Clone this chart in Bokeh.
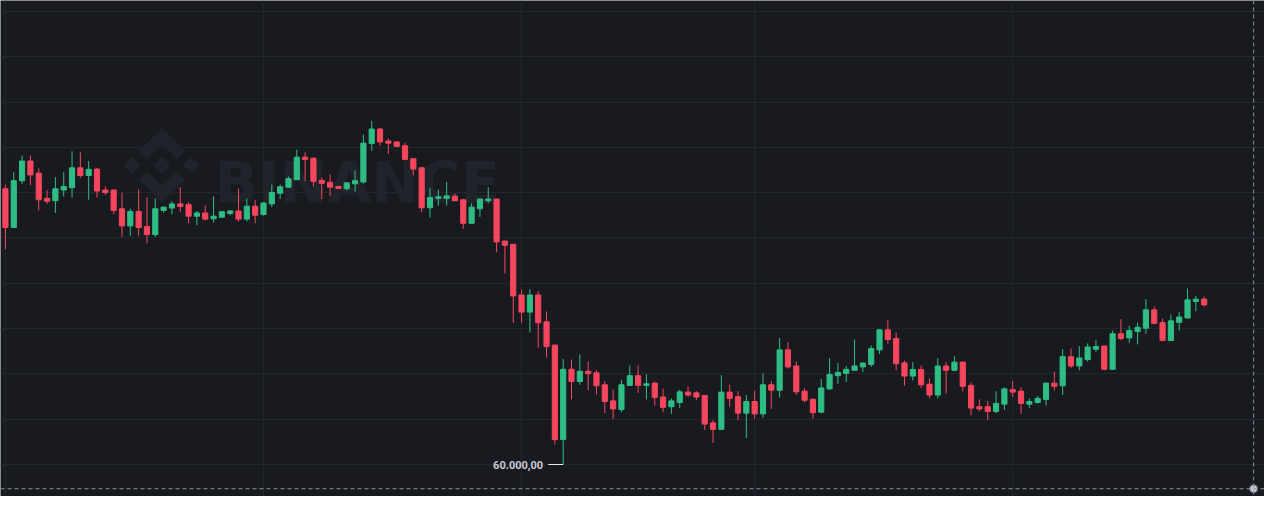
import numpy as np
import pandas as pd
from bokeh.plotting import figure
from bokeh.models import Range1d, FixedTicker, Span, Label, ColumnDataSource
from bokeh.core.properties import value
from bokeh.embed import file_html
from bokeh.resources import INLINE

# ---------------- data (BTC/USDT daily candles) ----------------
start_date = "2025-12-01"
open_ = [90430, 86160, 91320, 93490, 92150, 89370, 89110, 90290, 90540, 92740,
         91890, 92600, 90290, 90290, 88220, 86330, 87930, 86270, 85370, 88040,
         88300, 88760, 88680, 87400, 87760, 87120, 87290, 87690, 87980, 87080,
         88510, 87580, 88760, 89930, 90610, 91430, 93920, 93810, 91350, 91140,
         90680, 90430, 90970, 91180, 95420, 97020, 95700, 95600, 95170, 93750,
         92740, 88330, 89370, 89370, 89610, 89220, 86620, 88220, 89110, 89290,
         84660, 84300, 78710, 76820, 78710, 75750, 73180, 62750, 70510, 69160,
         70290, 70120, 68800, 67020, 66060, 68730, 69800, 68730, 68980, 67450,
         66380, 66840, 67990, 67910, 67620, 64600, 63880, 67990, 67480, 65670,
         66950, 65590, 68800, 68200, 72650, 70870, 68090, 67190, 65770, 68340,
         69800, 70050, 70400, 70770, 71040, 72650, 74860, 73900, 71220, 69760,
         70480, 68870, 67670, 70870, 70400, 71300, 68730, 66380, 66380, 65850,
         66660, 68260, 68090, 66660, 66840, 67190, 68980, 68690, 71900, 70870,
         71580, 72720, 73070, 70510, 74430, 73970, 74680, 75040, 77070, 75680,
         73680, 75680, 76170, 77990, 78250]
high = [90890, 92250, 94100, 94100, 92680, 90250, 91720, 92250, 94560, 94450,
        93490, 92740, 90710, 90360, 90010, 88220, 90360, 89470, 89370, 88470,
        89050, 90610, 88940, 87980, 88570, 89580, 87960, 88040, 90430, 89370,
        89180, 88970, 90890, 90890, 91780, 94740, 94450, 93850, 91670, 92040,
        90730, 91180, 92470, 96420, 97920, 97130, 95950, 95650, 95520, 93780,
        92850, 90540, 90330, 91180, 89900, 89260, 88830, 89340, 90610, 89340,
        84690, 84320, 79320, 79320, 79140, 76890, 73200, 71650, 71580, 72150,
        71360, 70400, 69230, 68260, 69330, 70940, 70940, 69970, 69160, 68370,
        67300, 68260, 68630, 68090, 67640, 64890, 69870, 68800, 68090, 67670,
        68160, 70050, 69230, 73970, 73500, 71360, 68450, 67270, 69440, 71730,
        71220, 70870, 73790, 71300, 73150, 74930, 75930, 74570, 71470, 71300,
        70940, 69510, 71730, 71300, 71940, 71330, 69090, 67190, 67020, 68090,
        68520, 69230, 68520, 67300, 67560, 69030, 70230, 72720, 72800, 73070,
        73360, 73720, 73150, 74780, 76040, 75320, 75640, 78250, 77430, 76110,
        76540, 76820, 79420, 78600, 78530]
low = [83760, 86100, 90970, 90820, 88040, 88760, 87760, 89580, 89470, 91610,
       89220, 89470, 89750, 87610, 85120, 85260, 85260, 84410, 85120, 87790,
       87610, 87870, 86620, 86400, 86910, 86690, 87230, 87510, 86800, 86800,
       86620, 87470, 88400, 89290, 90540, 91430, 91250, 90710, 89290, 89640,
       90410, 90250, 90110, 91000, 94640, 95170, 94280, 95060, 93570, 91890,
       87870, 87260, 88570, 88570, 89080, 86010, 86540, 87330, 88830, 83410,
       81090, 75640, 75640, 74570, 72900, 71830, 62210, 60000, 67190, 68800,
       68200, 67730, 65670, 64990, 65770, 68660, 67910, 67190, 66490, 65770,
       65590, 66230, 67450, 67090, 63820, 62380, 63850, 66380, 64890, 62920,
       65060, 65160, 66130, 67380, 70580, 67670, 66840, 65060, 65670, 68260,
       68910, 69090, 70340, 70230, 70770, 72190, 73330, 70400, 68690, 69270,
       68450, 67300, 67300, 67800, 70290, 68090, 65420, 65880, 64890, 65670,
       66010, 67450, 65590, 66230, 66740, 66490, 68160, 67670, 70660, 70400,
       71360, 72430, 70400, 70480, 73720, 73440, 73260, 74430, 75470, 73610,
       73610, 74780, 76110, 76920, 77430]
close = [86160, 91320, 93490, 91960, 89220, 89050, 90430, 90680, 92740, 91890,
         92570, 90180, 90010, 88040, 86330, 87930, 86160, 85370, 88220, 88400,
         88760, 88470, 87400, 87760, 87080, 87400, 87900, 87980, 87080, 88510,
         87510, 88860, 90010, 90650, 91540, 93920, 93670, 91250, 91030, 90610,
         90470, 91080, 91320, 95460, 97020, 95600, 95460, 95100, 93670, 92600,
         88330, 89470, 89540, 89640, 89110, 86620, 88400, 89290, 89290, 84560,
         84190, 78600, 76820, 78710, 75640, 73010, 62750, 70510, 69160, 70290,
         70020, 68690, 66950, 66130, 68800, 69800, 68730, 68910, 67380, 66310,
         67020, 68020, 67670, 67450, 64460, 63880, 67990, 67300, 65670, 66950,
         65590, 68800, 68200, 72650, 70770, 68020, 67090, 65720, 68450, 69940,
         70160, 70510, 70870, 71190, 72800, 74860, 73790, 71120, 69760, 70480,
         68800, 67670, 70870, 70400, 71300, 68630, 66230, 66130, 65850, 66740,
         68340, 67990, 66740, 66950, 67300, 68980, 68630, 71900, 70870, 71760,
         72970, 73010, 70510, 74430, 73900, 74780, 75150, 77070, 75580, 73680,
         75850, 76280, 78170, 78250, 77610]
month_starts = ["2025-12-01", "2026-01-01", "2026-02-01", "2026-03-01", "2026-04-01"]
price_grid = [60000, 65000, 70000, 75000, 80000, 85000, 90000, 95000, 100000, 105000, 110000]
watermark_text = "BINANCE"

# ---------------- style ----------------
UP = "#2ebd85"
DOWN = "#f6465d"
BG = "#181a20"
GRID = "#22272d"
WM = "#202329"
CROSS = "#8c9199"

DAY = 86400000.0
t0 = pd.Timestamp(start_date).value / 1e6
dates = pd.date_range(start_date, periods=len(close), freq="D")

o = np.array(open_, float)
c = np.array(close, float)
src = ColumnDataSource(dict(
    x=dates, open=o, close=c, high=np.array(high, float), low=np.array(low, float),
    top=np.maximum(o, c), bottom=np.minimum(o, c),
    color=[UP if cc >= oo else DOWN for oo, cc in zip(o, c)],
))

# view window (matches the reference framing)
x_lo, x_hi = t0 - 0.593 * DAY, t0 + 151.246 * DAY
y_lo, y_hi = 56470, 111205

p = figure(width=1264, height=496, x_axis_type="datetime",
           x_range=Range1d(x_lo, x_hi), y_range=Range1d(y_lo, y_hi),
           x_axis_location=None, y_axis_location=None,
           output_backend="svg", toolbar_location=None, min_border=0,
           background_fill_color=BG, border_fill_color=BG, outline_line_color=None)

p.xgrid.ticker = FixedTicker(ticks=[pd.Timestamp(m).value / 1e6 for m in month_starts])
p.ygrid.ticker = FixedTicker(ticks=price_grid)
p.grid.grid_line_color = GRID
p.grid.grid_line_width = 1


def frac(fx, fy):
    """position as fraction of the visible window -> data coords"""
    return x_lo + fx * (x_hi - x_lo), y_lo + (1 - fy) * (y_hi - y_lo)


# ---------------- watermark (Binance logo + wordmark), drawn beneath the candles ----------------
logo_polys = [
    [(63.3, 48.76), (77.83, 63.3), (63.3, 77.83), (48.77, 63.3)],
    [(38.73, 53.2), (63.3, 28.64), (87.89, 53.22), (102.19, 38.92), (63.3, 0), (24.43, 38.88)],
    [(0, 63.31), (14.3, 49), (28.6, 63.31), (14.3, 77.61)],
    [(38.73, 73.41), (63.3, 98), (87.89, 73.41), (102.2, 87.7), (63.3, 126.61), (24.42, 87.73)],
    [(98, 63.31), (112.3, 49), (126.61, 63.3), (112.3, 77.62)],
]
lx0, ly0, lsize = 125 / 1280, 131.5 / 512, 77.0
xs, ys = [], []
for poly in logo_polys:
    px, py = [], []
    for a, b in poly:
        dx, dy = frac(lx0 + a / 126.61 * lsize / 1280, ly0 + b / 126.61 * lsize / 512)
        px.append(dx)
        py.append(dy)
    xs.append(px)
    ys.append(py)
p.patches(xs, ys, fill_color=WM, line_color=None)

wx, wy = frac(217 / 1280, 188 / 512)
p.text(x=[wx], y=[wy], text=[watermark_text], text_font=value("DejaVu Sans"),
       text_font_style="bold", text_font_size="57px", text_color=WM,
       text_align="left", text_baseline="alphabetic")

# ---------------- candles ----------------
p.segment(x0="x", y0="high", x1="x", y1="low", line_color="color", line_width=1, source=src)
p.vbar(x="x", width=0.62 * DAY, top="top", bottom="bottom", fill_color="color",
       line_color="color", line_width=1, source=src)

# ---------------- lowest-low marker ----------------
i_low = int(np.argmin(low))
low_val = float(low[i_low])
low_x = t0 + i_low * DAY
p.segment(x0=[low_x - 1.8 * DAY], y0=[low_val], x1=[low_x], y1=[low_val],
          line_color="#e8eaed", line_width=1)
low_txt = f"{low_val:,.2f}".replace(",", "X").replace(".", ",").replace("X", ".")
p.add_layout(Label(x=low_x, y=low_val, x_offset=-20, text=low_txt, text_font="Roboto",
                   text_font_size="11px", text_font_style="bold", text_color="#c9ccd1",
                   text_align="right", text_baseline="middle"))

# ---------------- crosshair ----------------
cx, cy = frac(1269 / 1280, 504 / 512)
p.add_layout(Span(location=cx, dimension="height", line_color=CROSS, line_width=1, line_dash="4 3"))
p.add_layout(Span(location=cy, dimension="width", line_color=CROSS, line_width=1, line_dash="4 3"))
p.scatter([cx], [cy], size=8, fill_color="#c5c9d0", line_color="#5d626a", line_width=1)

open("out.html", "w").write(file_html(p, INLINE))
